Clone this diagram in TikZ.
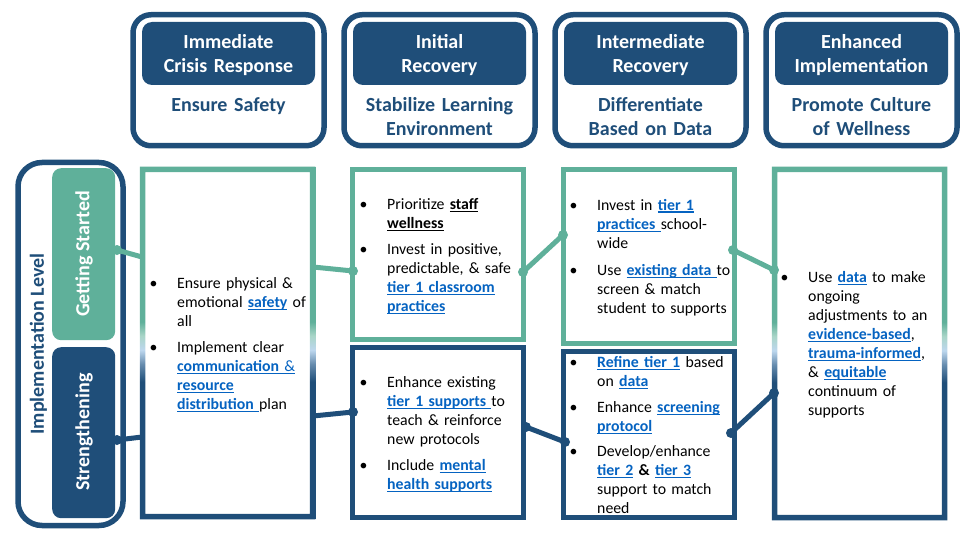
\documentclass[tikz,border=0pt]{standalone}
\usepackage{fontspec}
\setmainfont{Carlito}

\definecolor{navy}{HTML}{1F4E79}
\definecolor{sea}{HTML}{5FB09A}
\definecolor{linkblue}{HTML}{0563C1}
\definecolor{fadeblue}{HTML}{BDD7EE}
\definecolor{fadesea}{HTML}{A9D5C8}

% Bordo che passa dal verde (sopra) al blu (sotto)
\pgfdeclareverticalshading{borderfade}{100bp}{color(0bp)=(navy); color(44.5bp)=(navy); color(47bp)=(navy!55!fadeblue); color(49bp)=(fadeblue); color(51bp)=(fadesea); color(53bp)=(sea); color(100bp)=(sea)}

\newcommand{\undl}[1]{\leavevmode\setbox0=\hbox{#1}\rlap{\rule[-2.6pt]{\wd0}{1.1pt}}\box0}
\newcommand{\lnk}[1]{\leavevmode{\color{linkblue}\undl{\textbf{#1}}}}
\newcommand{\bitem}[4]{%
  \node[bul] (#1-b) at (#2-27.5,#3) {\textbullet};
  \node[body] (#1) at (#2,#3) {#4};}

\begin{document}
\begin{tikzpicture}[x=1pt, y=-1pt,
  hdframe/.style={draw=navy, line width=5.5pt, rounded corners=18pt, minimum width=191pt, minimum height=131pt, inner sep=0pt},
  hdtag/.style={fill=navy, rounded corners=10pt, minimum width=173pt, minimum height=63pt, inner sep=0pt},
  hdtitle/.style={text=white, font=\fontsize{20}{24.4}\selectfont\bfseries, align=center, text width=185pt, anchor=base, inner sep=0pt},
  hdgoal/.style={text=navy, font=\fontsize{20}{23.4}\selectfont\bfseries, align=center, text width=185pt, anchor=base, inner sep=0pt},
  levelbox/.style={rounded corners=9pt, minimum width=63pt, inner sep=0pt, anchor=north west},
  leveltext/.style={rotate=90, font=\fontsize{20}{24}\selectfont\bfseries},
  seabox/.style={draw=sea, line width=5.5pt, inner sep=0pt, anchor=north west, minimum width=171pt},
  navybox/.style={draw=navy, line width=5.5pt, inner sep=0pt, anchor=north west, minimum width=171pt},
  body/.style={font=\fontsize{15.8}{19}\selectfont, align=left, text width=175pt, anchor=base west, inner sep=0pt},
  bul/.style={font=\fontsize{15.8}{19}\selectfont, anchor=base west, inner sep=0pt},
  sealink/.style={draw=sea, line width=5pt},
  navylink/.style={draw=navy, line width=5pt}]

\useasboundingbox (0,0) rectangle (960,540);

% --- Intestazioni delle fasi ---
\foreach \nm/\xl/\ti/\go in {h1/133/{Immediate\\Crisis Response}/{Ensure Safety},
    h2/344/{Initial\\Recovery}/{Stabilize Learning\\Environment},
    h3/555/{Intermediate\\Recovery}/{Differentiate\\Based on Data},
    h4/766/{Enhanced\\Implementation}/{Promote Culture\\of Wellness}}{
  \node[hdframe, anchor=north west] (\nm) at (\xl-2.75,12) {};
  \node[hdtag] (\nm-tag) at (\xl+95.5,53.5) {};
  \node[hdtitle] (\nm-title) at (\xl+95.5,48.3) {\ti};
  \node[hdgoal] (\nm-goal) at (\xl+95.5,111.7) {\go};
}

% --- Livelli di implementazione ---
\node[draw=navy, line width=5.5pt, rounded corners=24pt, minimum width=105pt, minimum height=363pt, inner sep=0pt, anchor=north west] (lvl) at (15.25,159.75) {};
\node[leveltext, text=navy] (lvl-text) at (38.5,344) {Implementation Level};
\node[levelbox, fill=sea, minimum height=172pt] (gs) at (52,168) {};
\node[leveltext, text=white] (gs-text) at (84,254) {Getting Started};
\node[levelbox, fill=navy, minimum height=171pt] (st) at (52,347) {};
\node[leveltext, text=white] (st-text) at (84,432) {Strengthening};

% --- Riquadri delle colonne ---
% Colonna 1 e 4: bordo sfumato
\shade[shading=borderfade, even odd rule] (139.75,166.75) rectangle (315.25,519.25) (145.25,172.25) rectangle (309.75,513.75);
\shade[shading=borderfade, even odd rule] (771.75,166.75) rectangle (947.25,520.25) (777.25,172.25) rectangle (941.75,514.75);
% Colonna 2 e 3
\node[seabox, minimum height=170pt] (c2t) at (349.75,166.75) {};
\node[navybox, minimum height=170pt] (c2b) at (349.75,344.75) {};
\node[seabox, minimum height=174pt] (c3t) at (560.75,166.75) {};
\node[navybox, minimum height=166pt] (c3b) at (560.75,348.75) {};

% --- Collegamenti ---
\coordinate (gs-e) at (117,250);   \coordinate (c1-gs) at (142,257);
\coordinate (st-e) at (117,440);   \coordinate (c1-st) at (142,437);
\coordinate (c1-t) at (313,267);   \coordinate (c2t-w) at (353,271);
\coordinate (c1-b) at (313,416);   \coordinate (c2b-w) at (353,412);
\coordinate (c2t-e) at (523,272);  \coordinate (c3t-w) at (563,235);
\coordinate (c2b-e) at (526,427);  \coordinate (c3b-w) at (565,442);
\coordinate (c3t-e) at (733,250);  \coordinate (c4-t) at (774,270);
\coordinate (c3b-e) at (731,433);  \coordinate (c4-b) at (774,393);

\draw[sealink] (gs-e) -- (c1-gs);
\draw[navylink] (st-e) -- (c1-st);
\draw[sealink] (c1-t) -- (c2t-w);
\draw[navylink] (c1-b) -- (c2b-w);
\draw[sealink] (c2t-e) -- (c3t-w);
\draw[navylink] (c2b-e) -- (c3b-w);
\draw[sealink] (c3t-e) -- (c4-t);
\draw[navylink] (c3b-e) -- (c4-b);
\foreach \p in {gs-e, c2t-w, c2t-e, c3t-w, c3t-e, c4-t}
  \fill[sea] (\p) circle (5pt);
\foreach \p in {st-e, c2b-w, c2b-e, c3b-w, c3b-e, c4-b}
  \fill[navy] (\p) circle (5pt);

% --- Testi ---
\bitem{c1a}{177}{288}{Ensure physical \&\\emotional \lnk{safety} of\\all}
\bitem{c1b}{177}{352}{Implement clear\\\leavevmode{\color{linkblue}\undl{\textbf{communication} \&}}\\\lnk{resource}\\\lnk{distribution\ }plan}

\bitem{c2a}{387}{209}{Prioritize \undl{\textbf{staff}}\\\undl{\textbf{wellness}}}
\bitem{c2b}{387}{254}{Invest in positive,\\predictable, \& safe\\\lnk{tier 1 classroom}\\\lnk{practices}}
\bitem{c2c}{387}{387}{Enhance existing\\\lnk{tier 1 supports\ }to\\teach \& reinforce\\new protocols}
\bitem{c2d}{387}{470}{Include \lnk{mental}\\\lnk{health supports}}

\bitem{c3a}{597}{210}{Invest in \lnk{tier 1}\\\lnk{practices\ }school-\\wide}
\bitem{c3b}{597}{275}{Use \lnk{existing data\ }to\\screen \& match\\student to supports}
\bitem{c3c}{597}{367}{\lnk{Refine tier 1} based\\on \lnk{data}}
\bitem{c3d}{597}{412}{Enhance \lnk{screening}\\\lnk{protocol}}
\bitem{c3e}{597}{456}{Develop/enhance\\\lnk{tier 2} \textbf{\&} \lnk{tier 3}\\support to match\\need}

\bitem{c4a}{808}{282}{Use \lnk{data} to make\\ongoing\\adjustments to an\\\lnk{evidence-based},\\\lnk{trauma-informed},\\\& \lnk{equitable}\\continuum of\\supports}

\end{tikzpicture}
\end{document}
